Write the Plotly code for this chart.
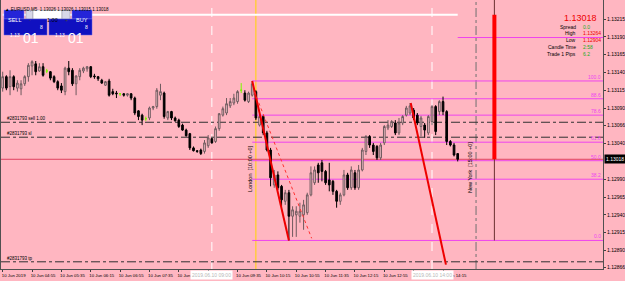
import plotly.graph_objects as go
import pandas as pd

# ---------------- data ----------------
title_text = "▲ EURUSD,M5  1.13026 1.13026 1.13015 1.13018"
bar_start = "2019-06-10 04:15"

opens = [1.13118, 1.13134, 1.13120, 1.13134, 1.13118, 1.13117, 1.13124, 1.13134, 1.13149, 1.13152,
         1.13142, 1.13148, 1.13142, 1.13141, 1.13134, 1.13127, 1.13121, 1.13113, 1.13146, 1.13143,
         1.13124, 1.13134, 1.13142, 1.13145, 1.13148, 1.13135, 1.13134, 1.13129, 1.13122, 1.13128,
         1.13113, 1.13111, 1.13110, 1.13110, 1.13108, 1.13110, 1.13104, 1.13086, 1.13080, 1.13075,
         1.13076, 1.13090, 1.13092, 1.13108, 1.13111, 1.13076, 1.13085, 1.13076, 1.13073, 1.13066,
         1.13059, 1.13054, 1.13034, 1.13030, 1.13031, 1.13029, 1.13037, 1.13047, 1.13043, 1.13061,
         1.13080, 1.13083, 1.13093, 1.13097, 1.13099, 1.13115, 1.13111, 1.13099, 1.13108, 1.13113,
         1.13066, 1.13078, 1.13055, 1.13031, 1.12982, 1.12996, 1.12980, 1.12959, 1.12971, 1.12938,
         1.12940, 1.12938, 1.12940, 1.12943, 1.12968, 1.12985, 1.13010, 1.13013, 1.13001, 1.12989,
         1.12987, 1.12973, 1.12959, 1.12968, 1.12996, 1.12978, 1.12999, 1.12978, 1.13003, 1.13029,
         1.13050, 1.13038, 1.13036, 1.13020, 1.13041, 1.13062, 1.13064, 1.13069, 1.13055, 1.13069,
         1.13080, 1.13083, 1.13087, 1.13080, 1.13064, 1.13066, 1.13055, 1.13071, 1.13092, 1.13085,
         1.13099, 1.13085, 1.13043, 1.13038, 1.13026]
highs = [1.13141, 1.13136, 1.13143, 1.13136, 1.13129, 1.13129, 1.13136, 1.13153, 1.13157, 1.13156,
         1.13153, 1.13153, 1.13145, 1.13142, 1.13136, 1.13129, 1.13125, 1.13148, 1.13156, 1.13146,
         1.13136, 1.13146, 1.13148, 1.13149, 1.13149, 1.13138, 1.13135, 1.13131, 1.13128, 1.13131,
         1.13117, 1.13114, 1.13111, 1.13111, 1.13111, 1.13111, 1.13106, 1.13087, 1.13082, 1.13078,
         1.13092, 1.13093, 1.13118, 1.13124, 1.13113, 1.13086, 1.13086, 1.13078, 1.13075, 1.13068,
         1.13061, 1.13055, 1.13036, 1.13031, 1.13033, 1.13045, 1.13052, 1.13048, 1.13064, 1.13083,
         1.13092, 1.13104, 1.13104, 1.13110, 1.13115, 1.13125, 1.13115, 1.13113, 1.13128, 1.13115,
         1.13080, 1.13080, 1.13058, 1.13034, 1.13003, 1.13001, 1.12982, 1.12975, 1.12975, 1.12952,
         1.12952, 1.12957, 1.12961, 1.12971, 1.13008, 1.13008, 1.13013, 1.13017, 1.13003, 1.13013,
         1.12989, 1.12975, 1.12971, 1.13003, 1.12999, 1.13008, 1.13003, 1.13010, 1.13034, 1.13052,
         1.13052, 1.13041, 1.13038, 1.13041, 1.13066, 1.13073, 1.13073, 1.13073, 1.13076, 1.13080,
         1.13093, 1.13097, 1.13090, 1.13083, 1.13079, 1.13069, 1.13080, 1.13094, 1.13094, 1.13101,
         1.13106, 1.13087, 1.13045, 1.13041, 1.13026]
lows = [1.13113, 1.13115, 1.13108, 1.13115, 1.13113, 1.13108, 1.13121, 1.13127, 1.13136, 1.13136,
        1.13141, 1.13134, 1.13139, 1.13129, 1.13125, 1.13115, 1.13111, 1.13108, 1.13136, 1.13121,
        1.13108, 1.13129, 1.13139, 1.13141, 1.13132, 1.13131, 1.13128, 1.13124, 1.13121, 1.13106,
        1.13108, 1.13104, 1.13107, 1.13106, 1.13106, 1.13101, 1.13080, 1.13073, 1.13066, 1.13072,
        1.13073, 1.13087, 1.13089, 1.13101, 1.13075, 1.13073, 1.13073, 1.13071, 1.13062, 1.13058,
        1.13050, 1.13031, 1.13029, 1.13027, 1.13024, 1.13026, 1.13034, 1.13040, 1.13041, 1.13058,
        1.13078, 1.13080, 1.13090, 1.13094, 1.13096, 1.13111, 1.13099, 1.13097, 1.13106, 1.13073,
        1.13064, 1.13052, 1.13029, 1.12980, 1.12978, 1.12975, 1.12952, 1.12954, 1.12904, 1.12909,
        1.12909, 1.12929, 1.12919, 1.12940, 1.12966, 1.12982, 1.12985, 1.12987, 1.12982, 1.12973,
        1.12968, 1.12950, 1.12954, 1.12966, 1.12975, 1.12975, 1.12975, 1.12975, 1.13001, 1.13024,
        1.13034, 1.13024, 1.13017, 1.13017, 1.13038, 1.13059, 1.13062, 1.13052, 1.13052, 1.13066,
        1.13078, 1.13080, 1.13073, 1.13066, 1.13050, 1.13048, 1.13052, 1.13066, 1.13052, 1.13080,
        1.13080, 1.13038, 1.13036, 1.13022, 1.13015]
closes = [1.13134, 1.13118, 1.13134, 1.13120, 1.13125, 1.13124, 1.13134, 1.13150, 1.13155, 1.13141,
          1.13148, 1.13136, 1.13142, 1.13132, 1.13127, 1.13118, 1.13115, 1.13146, 1.13141, 1.13124,
          1.13135, 1.13143, 1.13146, 1.13148, 1.13134, 1.13134, 1.13131, 1.13125, 1.13127, 1.13108,
          1.13110, 1.13110, 1.13110, 1.13108, 1.13110, 1.13104, 1.13083, 1.13078, 1.13073, 1.13075,
          1.13090, 1.13092, 1.13115, 1.13113, 1.13078, 1.13085, 1.13076, 1.13072, 1.13064, 1.13059,
          1.13051, 1.13034, 1.13030, 1.13029, 1.13026, 1.13041, 1.13048, 1.13041, 1.13061, 1.13082,
          1.13089, 1.13096, 1.13099, 1.13104, 1.13113, 1.13115, 1.13101, 1.13111, 1.13124, 1.13076,
          1.13078, 1.13055, 1.13031, 1.12992, 1.12996, 1.12978, 1.12961, 1.12971, 1.12938, 1.12947,
          1.12945, 1.12945, 1.12954, 1.12968, 1.12999, 1.13003, 1.12999, 1.13001, 1.12985, 1.12982,
          1.12973, 1.12959, 1.12968, 1.12996, 1.12978, 1.13003, 1.12978, 1.13003, 1.13031, 1.13050,
          1.13038, 1.13029, 1.13020, 1.13038, 1.13064, 1.13066, 1.13071, 1.13055, 1.13069, 1.13078,
          1.13090, 1.13093, 1.13076, 1.13069, 1.13076, 1.13059, 1.13078, 1.13092, 1.13057, 1.13099,
          1.13085, 1.13043, 1.13038, 1.13024, 1.13018]

price_ticks = [1.12866, 1.12890, 1.12915, 1.12940, 1.12965, 1.12990, 1.13040,
               1.13066, 1.13090, 1.13115, 1.13140, 1.13165, 1.13190, 1.13215]
price_tick_text = ["1.12866", "1.12890", "1.12915", "1.12940", "1.12965", "1.12990", "1.13040",
                   "1.13066", "1.13090", "1.13115", "1.13140", "1.13165", "1.13190", "1.13215"]

time_ticks = ["2019-06-10 04:15", "2019-06-10 04:55", "2019-06-10 05:35", "2019-06-10 06:15",
              "2019-06-10 06:55", "2019-06-10 07:35", "2019-06-10 08:15", "2019-06-10 08:55",
              "2019-06-10 09:35", "2019-06-10 10:15", "2019-06-10 10:55", "2019-06-10 11:35",
              "2019-06-10 12:15", "2019-06-10 12:55", "2019-06-10 13:35", "2019-06-10 14:15"]
time_tick_text = ["10 Jun 2019", "10 Jun 04:55", "10 Jun 05:35", "10 Jun 06:15",
                  "10 Jun 06:55", "10 Jun 07:35", "10 Jun 08:15", "",
                  "10 Jun 09:35", "10 Jun 10:15", "10 Jun 10:55", "10 Jun 11:35",
                  "10 Jun 12:15", "10 Jun 12:55", "", "10 Jun 14:15"]
x_range = ["2019-06-10 04:12:41", "2019-06-10 17:53"]
y_range = [1.128639, 1.132417]

fib_levels = ["0.0", "38.2", "50.0", "61.8", "78.6", "88.6", "100.0"]
fib_prices = [1.12904, 1.12990, 1.13016, 1.13042, 1.13080, 1.13103, 1.13128]
fib_start = "2019-06-10 09:55"
ext_level = "127.2"
ext_price = 1.13189
ext_start = "2019-06-10 14:35"

order_prices = [1.13070, 1.13049, 1.12874]
order_labels = ["#2831793 sell 1.00", "#2831793 sl", "#2831793 tp"]

bid_price = 1.13018
day_open, day_high, day_low, day_close = 1.13221, 1.13264, 1.12904, 1.13018
day_bar_time = "2019-06-10 15:25"
day_open_line_end = "2019-06-10 14:35"

session_times = ["2019-06-10 10:00", "2019-06-10 15:00"]
session_labels = ["London  [10:00 +0]", "New York  [15:00 +0]"]
marker_times = ["2019-06-10 09:00", "2019-06-10 14:00"]
marker_labels = ["2019.06.10 09:00", "2019.06.10 14:00"]

trend_x0 = ["2019-06-10 09:55", "2019-06-10 09:58", "2019-06-10 13:31"]
trend_y0 = [1.13128, 1.13113, 1.13097]
trend_x1 = ["2019-06-10 10:45", "2019-06-10 11:16", "2019-06-10 14:19"]
trend_y1 = [1.12904, 1.12907, 1.12870]

info_labels = ["Spread", "High", "Low", "Candle Time", "Trade 1 Pips"]
info_values = ["0.0", "1.13264", "1.12904", "2:58", "6.2"]

# ---------------- figure ----------------
BG = "#FFB6C1"
FONT = "Liberation Sans"
times = pd.date_range(bar_start, periods=len(opens), freq="5min")
is_doji = [o == c for o, c in zip(opens, closes)]

def pick(seq, flag):
    return [v for v, d in zip(seq, is_doji) if d == flag]

fig = go.Figure()
fig.add_trace(go.Candlestick(
    x=pick(times, False), open=pick(opens, False), high=pick(highs, False),
    low=pick(lows, False), close=pick(closes, False),
    increasing=dict(line=dict(color="#6e5a5e", width=1), fillcolor="#FFC8D0"),
    decreasing=dict(line=dict(color="#000000", width=1), fillcolor="#000000"),
    whiskerwidth=0, showlegend=False, hoverinfo="skip"))
fig.add_trace(go.Candlestick(
    x=pick(times, True), open=pick(opens, True), high=pick(highs, True),
    low=pick(lows, True), close=pick(closes, True),
    increasing=dict(line=dict(color="#7CFC00", width=1)),
    decreasing=dict(line=dict(color="#7CFC00", width=1)),
    whiskerwidth=0, showlegend=False, hoverinfo="skip"))

# daily bar (wick + body)
fig.add_trace(go.Scatter(x=[day_bar_time, day_bar_time], y=[day_high, day_low], mode="lines",
                         line=dict(color="#6a3030", width=1), showlegend=False, hoverinfo="skip"))
fig.add_trace(go.Scatter(x=[day_bar_time, day_bar_time], y=[day_open, day_close], mode="lines",
                         line=dict(color="#FF0000", width=4), showlegend=False, hoverinfo="skip"))

# trend lines
styles = [dict(color="#EE0000", width=2), dict(color="#FF3030", width=1, dash="dot"),
          dict(color="#EE0000", width=2)]
for x0, y0, x1, y1, st in zip(trend_x0, trend_y0, trend_x1, trend_y1, styles):
    fig.add_trace(go.Scatter(x=[x0, x1], y=[y0, y1], mode="lines", line=st,
                             showlegend=False, hoverinfo="skip"))

shapes = []
ann = []
PL, PR, PT, PB = 1, 603, 0, 269

def px(x):
    return (x - PL) / (PR - PL)

def py(y):
    return (PB - y) / (PB - PT)

# day open line (white)
shapes.append(dict(type="line", xref="x", x0=bar_start, x1=day_open_line_end, yref="y",
                   y0=day_open, y1=day_open, line=dict(color="white", width=2), layer="below"))

# vertical markers (white dashed)
for t in marker_times:
    shapes.append(dict(type="line", xref="x", x0=t, x1=t, yref="paper", y0=0, y1=1,
                       line=dict(color="white", width=1, dash="dash"), layer="below"))
# sessions
shapes.append(dict(type="line", xref="x", x0=session_times[0], x1=session_times[0], yref="paper",
                   y0=0, y1=1, line=dict(color="#FFD700", width=1), layer="below"))
shapes.append(dict(type="line", xref="x", x0=session_times[1], x1=session_times[1], yref="paper",
                   y0=0, y1=1, line=dict(color="#707070", width=1, dash="dashdot"), layer="below"))

# fib lines
for lvl, p in zip(fib_levels, fib_prices):
    shapes.append(dict(type="line", xref="x", x0=fib_start, x1=x_range[1], yref="y", y0=p, y1=p,
                       line=dict(color="#EE44EE", width=1), layer="below"))
    ann.append(dict(x=1, xref="paper", y=p, yref="y", text=lvl, showarrow=False,
                    xanchor="right", yanchor="bottom", yshift=-1,
                    font=dict(family=FONT, size=5, color="#EE44EE")))
shapes.append(dict(type="line", xref="x", x0=ext_start, x1=x_range[1], yref="y", y0=ext_price,
                   y1=ext_price, line=dict(color="#EE44EE", width=1), layer="below"))

# order lines
for p, lab in zip(order_prices, order_labels):
    shapes.append(dict(type="line", xref="paper", x0=0, x1=1, yref="y", y0=p, y1=p,
                       line=dict(color="#303030", width=1, dash="dashdot"), layer="below"))
    ann.append(dict(x=px(5), xref="paper", y=p, yref="y", text=lab, showarrow=False,
                    xanchor="left", yanchor="bottom", yshift=-1,
                    font=dict(family=FONT, size=4.5, color="black")))

# bid line
shapes.append(dict(type="line", xref="paper", x0=0, x1=1, yref="y", y0=bid_price, y1=bid_price,
                   line=dict(color="#E04060", width=1), layer="below"))

# session labels (rotated)
for t, lab in zip(session_times, session_labels):
    ann.append(dict(x=t, xref="x", y=py(168), yref="paper", text=lab,
                    showarrow=False, textangle=-90, xanchor="right", xshift=-1,
                    font=dict(family=FONT, size=5.5, color="black")))

# marker labels on time axis
for t, lab in zip(marker_times, marker_labels):
    ann.append(dict(x=t, xref="x", y=0, yref="paper", yanchor="top", yshift=-1, text=lab,
                    showarrow=False, bgcolor="white", borderpad=1,
                    font=dict(family=FONT, size=5, color="#b8b8b8")))

# current price tag on price axis
ann.append(dict(x=1, xref="paper", y=bid_price, yref="y", text="1.13018", showarrow=False,
                xanchor="left", xshift=1, bgcolor="black", borderpad=1,
                font=dict(family=FONT, size=5, color="white")))

# title
ann.append(dict(x=px(3), xref="paper", y=py(5), yref="paper", text=title_text, showarrow=False,
                xanchor="left", font=dict(family=FONT, size=4.5, color="black")))

# info panel
ann.append(dict(x=px(599), xref="paper", y=py(11.5), yref="paper", text="1.13018", showarrow=False,
                xanchor="right", font=dict(family=FONT, size=9, color="#EE0000")))
info_y = [22, 28.5, 35, 42, 49]
val_colors = ["#22AA22", "#EE0000", "#EE0000", "#22AA22", "#22AA22"]
for lab, val, yy, vc in zip(info_labels, info_values, info_y, val_colors):
    ann.append(dict(x=px(578), xref="paper", y=py(yy), yref="paper", text=lab, showarrow=False,
                    xanchor="right", font=dict(family=FONT, size=5, color="black")))
    ann.append(dict(x=px(581), xref="paper", y=py(yy), yref="paper", text=val, showarrow=False,
                    xanchor="left", font=dict(family=FONT, size=5, color=vc)))

# trading panel
def rect(x0, y0, x1, y1, fill, line="#404080"):
    shapes.append(dict(type="rect", xref="paper", yref="paper", x0=px(x0), x1=px(x1),
                       y0=py(y1), y1=py(y0), fillcolor=fill, line=dict(color=line, width=0.5)))

def label(x, y, t, size, color, anchor="center"):
    ann.append(dict(x=px(x), xref="paper", y=py(y), yref="paper", text=t, showarrow=False,
                    xanchor=anchor, font=dict(family=FONT, size=size, color=color)))

rect(4, 10, 24, 19, "#2424D8", "#8080FF")
label(14, 14.5, "SELL", 5.5, "white")
rect(26, 10, 33, 19, "#D8D8E8", "#9090A0")
label(29.5, 14.5, "-", 5, "#404040")
rect(33, 10, 62, 19, "white", "#9090A0")
label(60, 14.5, "1.00", 5.5, "black", "right")
rect(62, 10, 70, 19, "#D8D8E8", "#9090A0")
label(66, 14.5, "+", 5, "#404040")
rect(72, 10, 92, 19, "#2424D8", "#8080FF")
label(82, 14.5, "BUY", 5.5, "white")
rect(4, 19, 47, 35, "#1010C0", "#6060E0")
rect(49, 19, 92, 35, "#1010C0", "#6060E0")
for bx in (4, 49):
    label(bx + 11, 30, "1.13", 5, "white")
    label(bx + 27, 27.5, "01", 14, "white")
    label(bx + 37.5, 22, "8", 5, "white")

fig.update_layout(
    width=625, height=281, margin=dict(l=PL, r=625 - PR, t=PT, b=281 - PB),
    paper_bgcolor=BG, plot_bgcolor=BG, shapes=shapes, annotations=ann,
    showlegend=False, boxgap=0.35,
    xaxis=dict(type="date", range=x_range, rangeslider=dict(visible=False), showgrid=False,
               zeroline=False, tickvals=time_ticks, ticktext=time_tick_text, ticks="outside",
               ticklen=2, tickcolor="#404040", ticklabelshift=11, ticklabelstandoff=0,
               tickangle=0, automargin=False,
               tickfont=dict(family=FONT, size=4.3, color="black"), showline=True,
               linecolor="#505050", linewidth=1, mirror=True),
    yaxis=dict(range=y_range, side="right", showgrid=False, zeroline=False, automargin=False,
               tickvals=price_ticks, ticktext=price_tick_text, ticks="outside", ticklen=2,
               tickcolor="#404040", tickfont=dict(family=FONT, size=5, color="black"),
               showline=True, linecolor="#505050", linewidth=1, mirror=True),
)

fig.write_html("out.html")
